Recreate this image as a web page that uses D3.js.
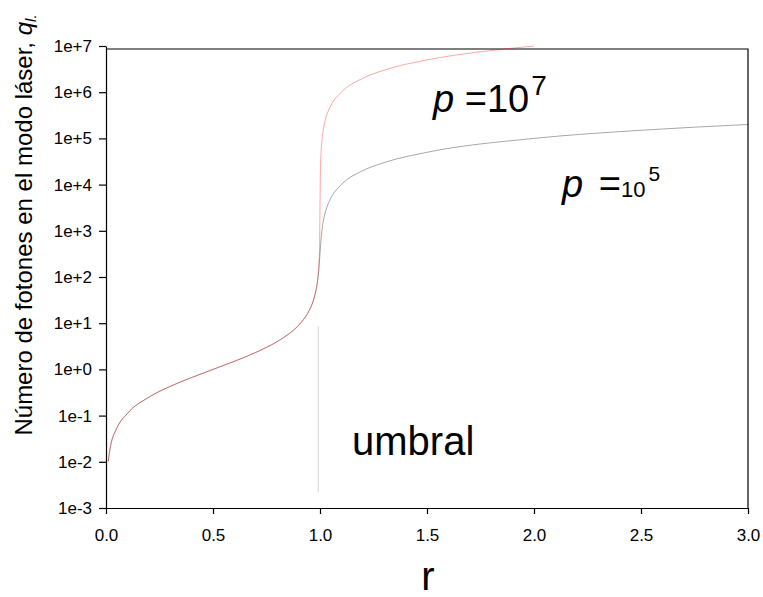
<!DOCTYPE html>
<html lang="es">
<head>
    <meta charset="UTF-8">
    <title>umbral láser</title>
    <style>
        body{
            margin: 0;
            background: #fff;
        }
        #main{
            width: 763px;
            height: 597px;
        }
    </style>
</head>
<body>
<div id="main"></div>
<script src="https://d3js.org/d3.v7.min.js"></script>
<script>
    /*=========== datos ===========*/
    const xTicks=[0,0.5,1,1.5,2,2.5,3]
    const yTicks=[1e-3,1e-2,1e-1,1e0,1e1,1e2,1e3,1e4,1e5,1e6,1e7]

    /* p = 10^7 (curva roja) */
    const rP7=[0.01,0.02,0.05,0.1,0.2,0.3,0.4,0.5,0.6,0.7,0.8,0.85,0.9,0.93,0.95,0.97,0.98,0.99,0.995,0.998,1.0,1.002,1.005,1.01,1.02,1.05,1.1,1.2,1.3,1.5,1.75,2.0]
    const qP7=[0.0101,0.0204,0.0526,0.111,0.25,0.429,0.667,1.0,1.5,2.33,4.0,5.67,9.0,13.3,19.0,32.3,49,99,198,490,3160,20500,50200,1.0e5,2.0e5,5.0e5,1.0e6,2.0e6,3.0e6,5.0e6,7.5e6,1.0e7]

    /* p = 10^5 (curva negra) */
    const rP5=[0.01,0.02,0.05,0.1,0.2,0.3,0.4,0.5,0.6,0.7,0.8,0.85,0.9,0.93,0.95,0.97,0.98,0.99,0.995,1.0,1.005,1.01,1.02,1.03,1.05,1.1,1.2,1.3,1.5,2.0,2.5,3.0]
    const qP5=[0.0101,0.0204,0.0526,0.111,0.25,0.429,0.667,1.0,1.5,2.33,4.0,5.67,9.0,13.3,19.0,32.0,47.9,90.8,152,316,654,1092,2050,3030,5020,1.0e4,2.0e4,3.0e4,5.0e4,1.0e5,1.5e5,2.0e5]

    /* linea del umbral */
    const umbralR=0.992
    const umbralQ=[0.0022,8.5]

    /*=========== contenedor ===========*/
    const width=763
    const height=597
    const font='"Liberation Sans", Arial, Helvetica, sans-serif'

    const svg=d3.select('#main').append('svg')
        .attr('width',width)
        .attr('height',height)
        .attr('viewBox',`0 0 ${width} ${height}`)
        .style('font-family',font)

    /*=========== escalas ===========*/
    const xScale=d3.scaleLinear().domain([0,3]).range([106,748])
    const yScale=d3.scaleLog().domain([1e-3,1e7]).range([508,46])

    const fmtExp=d=>{
        const e=Math.round(Math.log10(d))
        return '1e'+(e<0?'-':'+')+Math.abs(e)
    }

    /*=========== ejes ===========*/
    const yAxis=svg.append('g')
        .attr('transform',`translate(${xScale(0)},0)`)
        .call(d3.axisLeft(yScale).tickValues(yTicks).tickFormat(fmtExp).tickSize(7).tickSizeOuter(0).tickPadding(7))
    yAxis.selectAll('text').attr('font-size',17).attr('font-family',font).attr('fill','#000')

    const xAxis=svg.append('g')
        .attr('transform',`translate(0,${yScale(1e-3)})`)
        .call(d3.axisBottom(xScale).tickValues(xTicks).tickFormat(d3.format('.1f')).tickSize(6).tickSizeOuter(0).tickPadding(15))
    xAxis.selectAll('text').attr('font-size',17).attr('font-family',font).attr('fill','#000')

    svg.selectAll('.domain, .tick line').attr('stroke','#000').attr('stroke-width',1.2)

    /* marco superior y derecho */
    const frameTop=yScale(1e7)+3
    svg.append('path')
        .attr('d',`M${xScale(0)},${frameTop}H${xScale(3)}V${yScale(1e-3)}`)
        .attr('fill','none')
        .attr('stroke','#000')
        .attr('stroke-width',1.2)

    /*=========== curvas ===========*/
    const line=d3.line()
        .x(d=>xScale(d[0]))
        .y(d=>yScale(d[1]))
        .curve(d3.curveMonotoneX)

    svg.append('path')
        .datum(d3.zip(rP5,qP5))
        .attr('d',line)
        .attr('fill','none')
        .attr('stroke','#000')
        .attr('stroke-width',0.35)

    svg.append('path')
        .datum(d3.zip(rP7,qP7))
        .attr('d',line)
        .attr('fill','none')
        .attr('stroke','#f00')
        .attr('stroke-width',0.35)

    svg.append('line')
        .attr('x1',xScale(umbralR)).attr('x2',xScale(umbralR))
        .attr('y1',yScale(umbralQ[0])).attr('y2',yScale(umbralQ[1]))
        .attr('stroke','#aaa')
        .attr('stroke-width',0.5)

    /*=========== textos ===========*/
    const t7=svg.append('text').attr('x',433).attr('y',112).attr('font-size',38)
    t7.append('tspan').attr('font-style','italic').text('p')
    t7.append('tspan').text(' =10')
    t7.append('tspan').attr('font-size',28).attr('dx',2).attr('dy',-17).text('7')

    const t5=svg.append('text').attr('x',562).attr('y',197).attr('font-size',38)
    t5.append('tspan').attr('font-style','italic').text('p')
    t5.append('tspan').attr('dx',5).text(' =')
    t5.append('tspan').attr('font-size',22).text('10')
    t5.append('tspan').attr('font-size',21).attr('dx',3).attr('dy',-16).text('5')

    svg.append('text')
        .attr('x',352).attr('y',455)
        .attr('font-size',40)
        .text('umbral')

    svg.append('text')
        .attr('x',428).attr('y',590)
        .attr('text-anchor','middle')
        .attr('font-size',40)
        .text('r')

    const yTitle=svg.append('text')
        .attr('transform','translate(32,225) rotate(-90)')
        .attr('text-anchor','middle')
        .attr('font-size',24)
    yTitle.append('tspan').text('Número de fotones en el modo láser, ')
    yTitle.append('tspan').attr('font-style','italic').text('q')
    yTitle.append('tspan').attr('font-style','italic').attr('font-size',15).attr('dy',4).text('l.')
</script>
</body>
</html>
